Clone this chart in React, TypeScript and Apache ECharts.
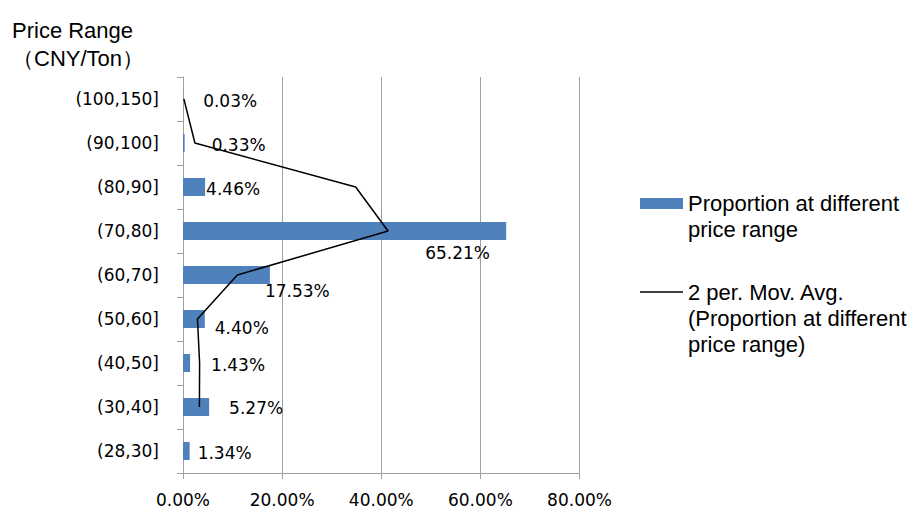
import React, { useEffect, useRef } from "react";
import * as echarts from "echarts";

const categories = ["(28,30]", "(30,40]", "(40,50]", "(50,60]", "(60,70]", "(70,80]", "(80,90]", "(90,100]", "(100,150]"];
const proportion = [1.34, 5.27, 1.43, 4.4, 17.53, 65.21, 4.46, 0.33, 0.03];
const movingAvg: (number | null)[] = [null, 3.31, 3.35, 2.92, 10.97, 41.37, 34.84, 2.4, 0.18];
const xTicks = [0, 20, 40, 60, 80];

const barName = "Proportion at different\nprice range";
const lineName = "2 per. Mov. Avg.\n(Proportion at different\nprice range)";

// label placement tweaks (pixels), matching the reference layout
const labelOffsets: [number, number][] = [
  [8, 2], [20, 1], [21, 2], [10, 9], [-5, 16], [-81, 22], [1, 2], [27, 2], [20, 2],
];

const LABEL_FONT = "DejaVu Sans";
const SANS = "Liberation Sans";

export default function App() {
  const ref = useRef<HTMLDivElement>(null);
  useEffect(() => {
    if (!ref.current) return;
    const chart = echarts.init(ref.current, null, { renderer: "svg" });
    const gray = "#a0a0a0";
    chart.setOption({
      animation: false,
      backgroundColor: "#ffffff",
      title: {
        text: "Price Range\n（CNY/Ton）",
        left: 7,
        top: 11,
        textStyle: { fontFamily: SANS, fontSize: 22, fontWeight: "normal", color: "#000", lineHeight: 28 },
      },
      grid: { left: 183, top: 77, right: 337.5, bottom: 39, outerBoundsMode: "none" },
      xAxis: {
        type: "value",
        min: 0,
        max: 80,
        interval: 20,
        axisLine: { show: true, lineStyle: { color: gray, width: 1 } },
        axisTick: { show: true, length: 6, lineStyle: { color: gray } },
        splitLine: { show: true, lineStyle: { color: gray, width: 1 } },
        axisLabel: {
          margin: 18,
          fontFamily: LABEL_FONT,
          fontSize: 17,
          color: "#000",
          formatter: (v: number) => v.toFixed(2) + "%",
          customValues: xTicks,
        },
      },
      yAxis: {
        type: "category",
        data: categories,
        axisLine: { show: true, lineStyle: { color: gray, width: 1 } },
        axisTick: { show: true, length: 6, lineStyle: { color: gray } },
        axisLabel: { margin: 24, fontFamily: LABEL_FONT, fontSize: 17, color: "#000" },
      },
      series: [
        {
          type: "bar",
          name: barName,
          barWidth: 18,
          itemStyle: { color: "#4F81BD" },
          data: proportion.map((v, i) => ({
            value: v,
            label: {
              show: true,
              position: "right",
              distance: 0,
              offset: labelOffsets[i],
              formatter: (p: any) => Number(p.value).toFixed(2) + "%",
              fontFamily: LABEL_FONT,
              fontSize: 17,
              color: "#000",
            },
          })),
          z: 2,
        },
        {
          type: "line",
          name: lineName,
          symbol: "none",
          lineStyle: { color: "#000", width: 1.5 },
          itemStyle: { color: "#000" },
          data: movingAvg.map((v, i) => (v === null ? [null, i] : [v, i])),
          connectNulls: false,
          z: 5,
        },
      ],
      graphic: [
        { type: "rect", shape: { x: 640, y: 198, width: 43, height: 11 }, style: { fill: "#4F81BD" } },
        {
          type: "text",
          x: 688,
          y: 190,
          style: { text: barName, fontFamily: SANS, fontSize: 22, lineHeight: 26, fill: "#000", verticalAlign: "top" },
        },
        { type: "line", shape: { x1: 640, y1: 292, x2: 683, y2: 292 }, style: { stroke: "#000", lineWidth: 1.5 } },
        {
          type: "text",
          x: 688,
          y: 279,
          style: { text: lineName, fontFamily: SANS, fontSize: 22, lineHeight: 26, fill: "#000", verticalAlign: "top" },
        },
      ],
    });
    return () => chart.dispose();
  }, []);
  return <div ref={ref} style={{ position: "fixed", left: 0, top: 0, width: 917, height: 512 }} />;
}
